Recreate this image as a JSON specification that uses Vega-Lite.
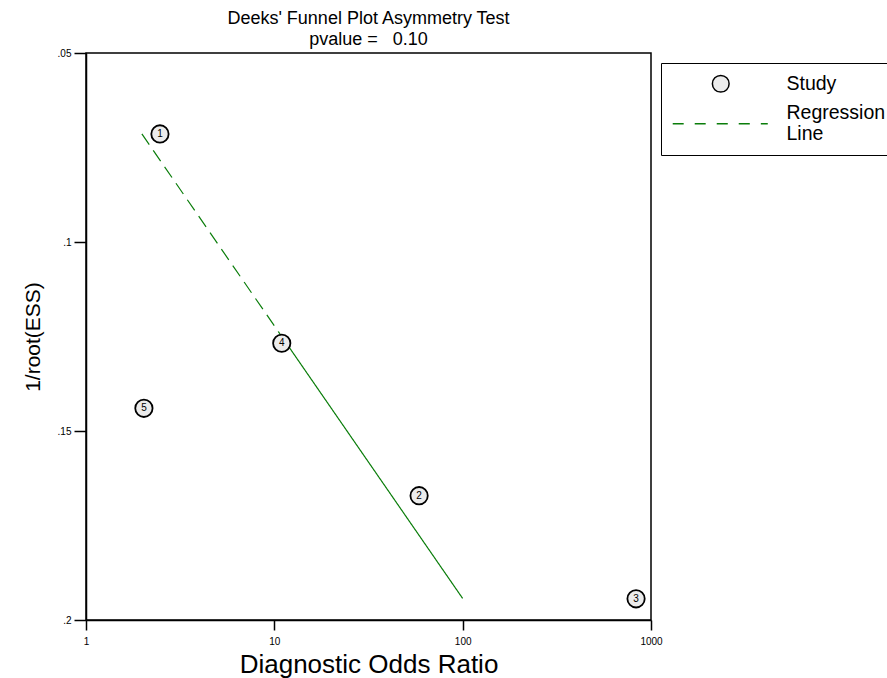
{
  "$schema": "https://vega.github.io/schema/vega-lite/v6.json",
  "width": 565,
  "height": 567,
  "autosize": "none",
  "padding": {"left": 86, "top": 53, "right": 236, "bottom": 58},
  "background": "white",
  "title": {
    "text": ["Deeks' Funnel Plot Asymmetry Test", "pvalue =\u00a0\u00a0\u00a00.10"],
    "font": "Liberation Sans",
    "fontSize": 18,
    "fontWeight": "normal",
    "color": "black",
    "anchor": "middle",
    "lineHeight": 21,
    "offset": -1
  },
  "config": {
    "view": {"stroke": "black", "strokeWidth": 1.5},
    "font": "Liberation Sans",
    "axis": {
      "grid": false,
      "domainColor": "black",
      "domainWidth": 1.5,
      "tickColor": "black",
      "tickWidth": 1.5,
      "labelColor": "black",
      "labelFontSize": 10,
      "labelFont": "Liberation Sans",
      "titleFont": "Liberation Sans",
      "titleFontWeight": "normal",
      "titleColor": "black",
      "labelFlush": false
    }
  },
  "datasets": {
    "studies": [
      {"id": "1", "dor": 2.47, "y": 0.0714, "series": "Study"},
      {"id": "2", "dor": 58.7, "y": 0.1671, "series": "Study"},
      {"id": "3", "dor": 833, "y": 0.1944, "series": "Study"},
      {"id": "4", "dor": 10.95, "y": 0.1268, "series": "Study"},
      {"id": "5", "dor": 2.03, "y": 0.144, "series": "Study"}
    ],
    "regline": [
      {"seg": "dashed", "dor": 1.98, "y": 0.0714},
      {"seg": "dashed", "dor": 10.5, "y": 0.1237},
      {"seg": "solid", "dor": 10.5, "y": 0.1237},
      {"seg": "solid", "dor": 100, "y": 0.1943}
    ]
  },
  "encoding": {
    "x": {
      "field": "dor",
      "type": "quantitative",
      "scale": {"type": "log", "domain": [1, 1000], "nice": false},
      "axis": {
        "title": "Diagnostic Odds Ratio",
        "titleFontSize": 26,
        "titlePadding": 5,
        "values": [1, 10, 100, 1000],
        "labelExpr": "format(datum.value, 'd')",
        "tickSize": 10,
        "labelPadding": 6
      }
    },
    "y": {
      "field": "y",
      "type": "quantitative",
      "scale": {"domain": [0.05, 0.2], "reverse": true, "nice": false, "zero": false},
      "axis": {
        "title": "1/root(ESS)",
        "titleFontSize": 21,
        "titlePadding": 14,
        "values": [0.05, 0.1, 0.15, 0.2],
        "labelExpr": "replace(format(datum.value, '~g'), '0.', '.')",
        "tickSize": 12,
        "labelPadding": 3
      }
    }
  },
  "layer": [
    {
      "data": {"name": "regline"},
      "mark": {"type": "line", "color": "#0a7d0a", "strokeWidth": 1.2},
      "encoding": {
        "detail": {"field": "seg", "type": "nominal"},
        "strokeDash": {
          "field": "seg",
          "type": "nominal",
          "scale": {"domain": ["dashed", "solid"], "range": [[13, 7], [1, 0]]},
          "legend": null
        }
      }
    },
    {
      "data": {"name": "studies"},
      "mark": {"type": "point", "filled": true, "fill": "#ececec", "opacity": 1, "size": 300, "strokeWidth": 1.8},
      "encoding": {
        "stroke": {
          "field": "series",
          "type": "nominal",
          "scale": {"domain": ["Study", "Regression Line"], "range": ["black", "#0a7d0a"]},
          "legend": {
            "title": null,
            "orient": "none",
            "legendX": 575,
            "legendY": 10,
            "strokeColor": "black",
            "padding": 11,
            "symbolOffset": 39,
            "labelOffset": 56,
            "symbolSize": 280,
            "symbolStrokeWidth": 1.5,
            "labelFontSize": 19.5,
            "labelColor": "black",
            "labelFont": "Liberation Sans",
            "rowPadding": 6,
            "labelExpr": "datum.label == 'Regression Line' ? ['Regression', 'Line'] : datum.label",
            "encode": {"labels": {"enter": {"lineHeight": {"value": 18}}, "update": {"lineHeight": {"value": 18}}}}
          }
        },
        "shape": {
          "field": "series",
          "type": "nominal",
          "scale": {"domain": ["Study", "Regression Line"], "range": ["circle", "M-5.74,1.3H-4.43M-3.11,1.3H-1.8M-0.48,1.3H0.84M2.15,1.3H3.47M4.79,1.3H5.62"]},
          "legend": {
            "title": null,
            "orient": "none",
            "legendX": 575,
            "legendY": 10,
            "strokeColor": "black",
            "padding": 11,
            "symbolOffset": 39,
            "labelOffset": 56,
            "symbolSize": 280,
            "symbolStrokeWidth": 1.5,
            "labelFontSize": 19.5,
            "labelColor": "black",
            "labelFont": "Liberation Sans",
            "rowPadding": 6,
            "labelExpr": "datum.label == 'Regression Line' ? ['Regression', 'Line'] : datum.label",
            "encode": {"labels": {"enter": {"lineHeight": {"value": 18}}, "update": {"lineHeight": {"value": 18}}}}
          }
        }
      }
    },
    {
      "data": {"name": "studies"},
      "mark": {"type": "text", "fontSize": 10, "color": "black", "align": "center", "baseline": "middle"},
      "encoding": {
        "text": {"field": "id", "type": "nominal"}
      }
    }
  ]
}
